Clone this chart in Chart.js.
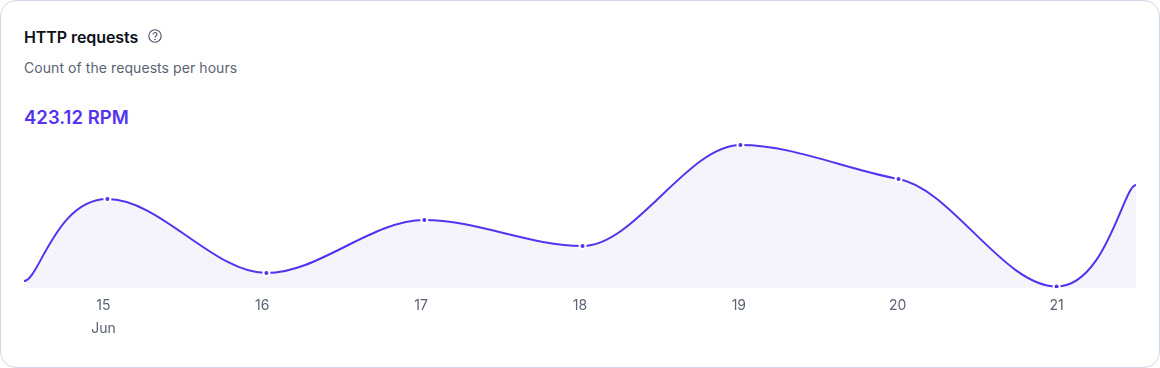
<!DOCTYPE html>
<html><head><meta charset="utf-8">
<script src="https://cdn.jsdelivr.net/npm/chart.js@4"></script>
<style>
html,body{margin:0;padding:0;background:#fff;width:1160px;height:368px;overflow:hidden}
#card{position:absolute;left:0;top:0;width:1158px;height:366px;border:1px solid #d3d8e8;border-radius:16px;background:#fff}
.t{position:absolute;white-space:nowrap;font-family:Inter,sans-serif}
#title{left:24px;top:27px;font-size:16px;font-weight:600;color:#0e1016;line-height:20px;letter-spacing:-.08px}
#sub{left:24px;top:59px;font-size:14px;color:#5b6274;line-height:18px;letter-spacing:.07px}
#val{left:24px;top:105px;font-size:18.5px;font-weight:600;color:#5433ee;line-height:24px;letter-spacing:.02px}
#help{position:absolute;left:148px;top:29px}
canvas{position:absolute;left:0;top:0}
</style></head><body>
<div id="card"></div>
<div class="t" id="title">HTTP requests</div>
<svg id="help" width="14" height="14" viewBox="0 0 14 14" fill="none" stroke="#4a5062"><circle cx="7" cy="7" r="6.2" stroke-width="1.1"/><path d="M5.1 5.5a1.9 1.9 0 1 1 2.9 1.6c-.7.4-1 .7-1 1.4" stroke-width="1.1"/><circle cx="7" cy="10.5" r=".4" fill="#4a5062"/></svg>
<div class="t" id="sub">Count of the requests per hours</div>
<div class="t" id="val">423.12 RPM</div>
<canvas id="c" width="1160" height="368"></canvas>
<script>
const days = [14.5, 15.025, 16.026, 17.02, 18.016, 19.01, 20.005, 21, 21.5];
const requests = [7, 89, 15, 68, 42, 143, 109, 1.5, 103];
const tickDays = [15, 16, 17, 18, 19, 20, 21];
const monthLabel = 'Jun';
const hidden = new Set([0, days.length - 1]);

const p = document.createElement('canvas'); p.width = 6; p.height = 6;
const g = p.getContext('2d');
g.fillStyle = '#f4f4fa'; g.fillRect(0, 0, 6, 6);
g.fillStyle = '#eeeef9'; g.fillRect(1, 1, 1, 1); g.fillRect(4, 4, 1, 1);
const fillPattern = g.createPattern(p, 'repeat');

// Line style: flat ends, long handles into the end segments, softer shoulder.
const softenCurve = {
  id: 'softenCurve',
  afterDatasetsUpdate(chart) {
    const meta = chart.getDatasetMeta(0);
    meta.dataset.updateControlPoints(chart.chartArea);
    const pts = meta.data, n = pts.length;
    const dl = pts[1].x - pts[0].x, dr = pts[n - 1].x - pts[n - 2].x;
    pts[0].cp2y = pts[0].y;
    pts[0].cp2x = pts[0].x + dl * 0.18;
    pts[1].cp1y = pts[1].y;
    pts[1].cp1x = pts[1].x - dl * 0.62;
    pts[n - 2].cp2y = pts[n - 2].y;
    pts[n - 2].cp2x = pts[n - 2].x + dr * 0.62;
    pts[n - 1].cp1y = pts[n - 1].y;
    pts[n - 1].cp1x = pts[n - 1].x - dr * 0.16;
    const s = pts[6];
    s.cp1y = s.y + (s.cp1y - s.y) * 0.4;
    s.cp2y = s.y + (s.cp2y - s.y) * 0.4;
  }
};

new Chart(document.getElementById('c'), {
  type: 'line',
  plugins: [softenCurve],
  data: { datasets: [{
    data: days.map((d, i) => ({ x: d, y: requests[i] })),
    borderColor: '#5433ee', borderWidth: 2,
    backgroundColor: fillPattern, fill: 'origin',
    cubicInterpolationMode: 'monotone',
    pointRadius: c => hidden.has(c.dataIndex) ? 0 : 3,
    pointBackgroundColor: '#5433ee',
    pointBorderColor: '#ffffff', pointBorderWidth: 2
  }]},
  options: {
    responsive: false, animation: false,
    layout: { padding: { left: 24, right: 24, top: 135, bottom: 30 } },
    plugins: { legend: { display: false }, tooltip: { enabled: false } },
    scales: {
      x: {
        type: 'linear', min: 14.5, max: 21.5,
        grid: { display: false }, border: { display: false },
        afterBuildTicks: a => { a.ticks = tickDays.map(v => ({ value: v })); },
        ticks: {
          maxRotation: 0, autoSkip: false, padding: -2,
          color: '#5b6274',
          font: { family: 'Inter, sans-serif', size: 14, lineHeight: 23 / 14 },
          callback: v => v === tickDays[0] ? [String(v), monthLabel] : String(v)
        }
      },
      y: { display: false, min: 0, max: 153 }
    }
  }
});
</script>
</body></html>
